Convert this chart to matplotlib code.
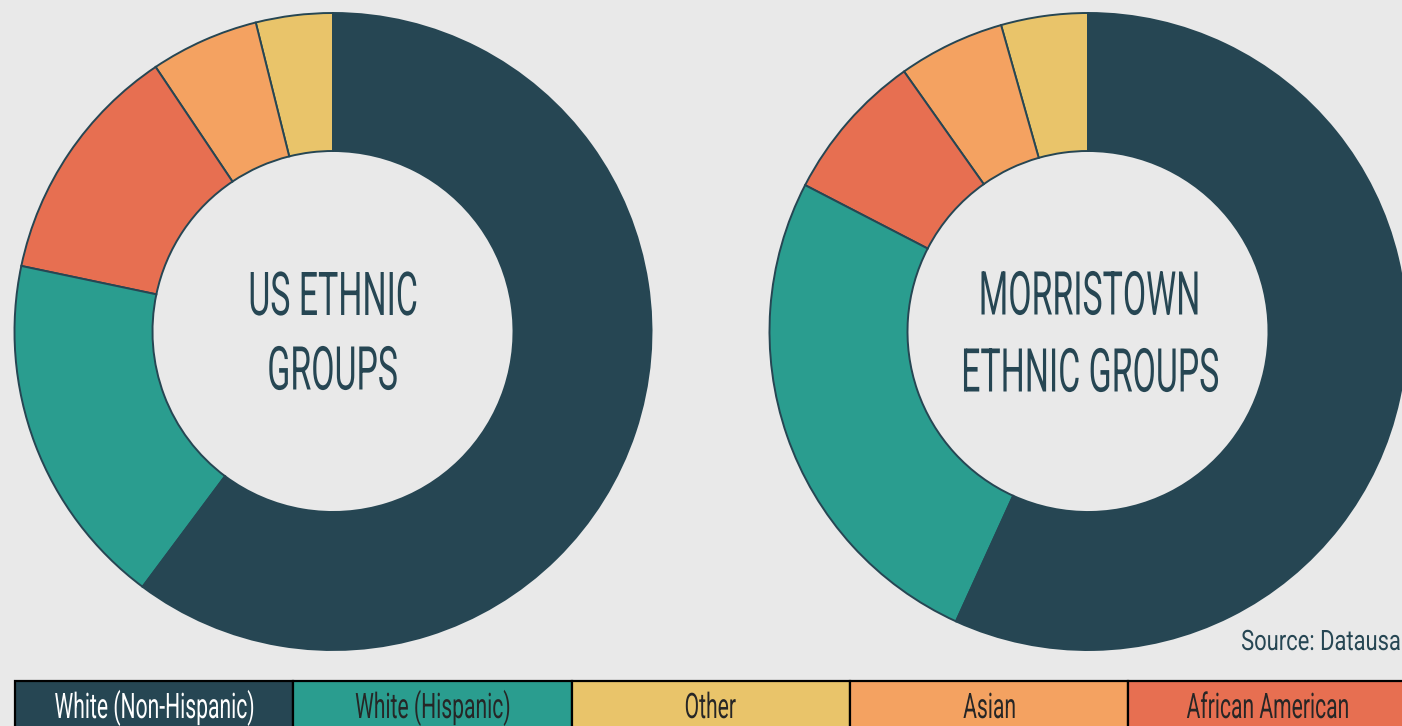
import matplotlib
matplotlib.use("Agg")
import matplotlib.pyplot as plt
from matplotlib.textpath import TextPath
from matplotlib.font_manager import FontProperties
from matplotlib.patches import PathPatch, Rectangle
from matplotlib.transforms import Affine2D

# data (percent of population)
categories = ["White (Non-Hispanic)", "White (Hispanic)", "Other", "Asian", "African American"]
colors = ["#264653", "#2a9d8f", "#e9c46a", "#f4a261", "#e76f51"]
us_share = [60.2, 18.1, 3.9, 5.5, 12.3]
morristown_share = [56.8, 25.8, 4.4, 5.4, 7.6]
pie_order = [2, 3, 4, 1, 0]  # counter-clockwise from 12 o'clock

W, H = 1402, 726
BG = "#e9e9e9"
DARK = "#264653"
FONT = FontProperties(family=["Roboto", "DejaVu Sans"])
CAP = TextPath((0, 0), "H", size=100, prop=FONT).get_extents().height / 100
SX = 0.56  # horizontal squeeze to mimic the condensed typeface


def put_text(ax, s, x, y, cap, color, sx=SX, ha="center"):
    # x, y in pixels from top-left; y is the middle of the cap height
    tp = TextPath((0, 0), s, size=cap / CAP, prop=FONT)
    ext = tp.get_extents()
    if ha == "center":
        dx = x - (ext.x0 + ext.width / 2) * sx
    else:
        dx = x - ext.x0 * sx
    tr = Affine2D().scale(sx, 1).translate(dx, (H - y) - cap / 2)
    ax.add_patch(PathPatch(tr.transform_path(tp), fc=color, ec="none",
                           lw=0, zorder=5))


fig = plt.figure(figsize=(W / 100, H / 100), dpi=100, facecolor=BG)
ax = fig.add_axes([0, 0, 1, 1])
ax.set_facecolor(BG)

for share, cx in [(us_share, 333), (morristown_share, 1088)]:
    ax.pie([share[i] for i in pie_order],
           colors=[colors[i] for i in pie_order],
           startangle=90, counterclock=True,
           center=(cx, H - 331.5), radius=318.5,
           wedgeprops=dict(width=138, edgecolor=DARK, linewidth=1.4))

put_text(ax, "US ETHNIC", 333.5, 293.5, 43, DARK)
put_text(ax, "GROUPS", 333, 368, 43, DARK)
put_text(ax, "MORRISTOWN", 1089.5, 293, 43, DARK)
put_text(ax, "ETHNIC GROUPS", 1091, 370, 43, DARK)
put_text(ax, "Source: Datausa.io", 1242, 640, 20, DARK, sx=0.78, ha="left")

# legend as a row of coloured cells
cell_w = 278.3
for k, (lab, col) in enumerate(zip(categories, colors)):
    x0 = 15 + k * cell_w
    ax.add_patch(Rectangle((x0, H - 760), cell_w, 760 - 681, fc=col,
                           ec="black", lw=1.6, zorder=3))
    put_text(ax, lab, x0 + cell_w / 2, 705.5, 25,
             "white" if k == 0 else "#262626", sx=0.6)

ax.set_xlim(0, W)
ax.set_ylim(0, H)
ax.set_aspect("equal")
ax.axis("off")
fig.savefig("out.png", dpi=100, facecolor=BG)
